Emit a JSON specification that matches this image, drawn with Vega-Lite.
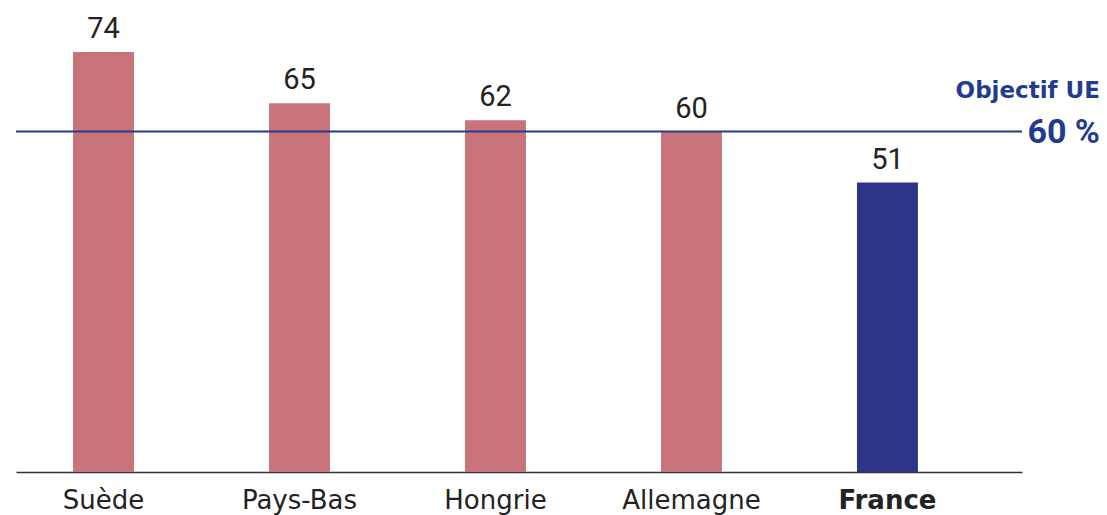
{
  "$schema": "https://vega.github.io/schema/vega-lite/v6.json",
  "width": 1006,
  "height": 454,
  "autosize": "none",
  "padding": {"left": 16, "top": 18, "right": 85, "bottom": 43},
  "background": "white",
  "config": {"view": {"stroke": null}, "font": "Roboto"},
  "data": {"values": [
    {"pays": "Suède", "valeur": 74, "groupe": "autre"},
    {"pays": "Pays-Bas", "valeur": 65, "groupe": "autre"},
    {"pays": "Hongrie", "valeur": 62, "groupe": "autre"},
    {"pays": "Allemagne", "valeur": 60, "groupe": "autre"},
    {"pays": "France", "valeur": 51, "groupe": "France"}
  ]},
  "layer": [
    {
      "mark": {"type": "bar"},
      "encoding": {
        "x": {
          "field": "pays", "type": "nominal", "sort": null,
          "scale": {"paddingInner": 0.689, "paddingOuter": 0.411, "align": 0.354},
          "axis": {
            "title": null, "ticks": false, "labelAngle": 0,
            "domainColor": "#333333", "domainWidth": 1.5,
            "labelFont": "DejaVu Sans",
            "labelFontSize": 26, "labelColor": "#222222", "labelPadding": 15,
            "labelFontWeight": {"condition": {"test": "datum.value === 'France'", "value": "bold"}, "value": "normal"}
          }
        },
        "y": {
          "field": "valeur", "type": "quantitative",
          "scale": {"domain": [0, 80], "nice": false},
          "axis": null
        },
        "color": {
          "field": "groupe", "type": "nominal",
          "scale": {"domain": ["autre", "France"], "range": ["#C9737B", "#2D3589"]},
          "legend": null
        }
      }
    },
    {
      "mark": {"type": "text", "baseline": "alphabetic", "dy": -14, "fontSize": 29, "color": "#222222"},
      "encoding": {
        "x": {"field": "pays", "type": "nominal", "sort": null},
        "y": {"field": "valeur", "type": "quantitative"},
        "text": {"field": "valeur", "type": "quantitative"}
      }
    },
    {
      "data": {"values": [{"objectif": 60, "label": "Objectif UE", "pct": "60 %"}]},
      "layer": [
        {
          "mark": {"type": "rule", "color": "#233B8E", "strokeWidth": 2},
          "encoding": {"y": {"field": "objectif", "type": "quantitative"}}
        },
        {
          "mark": {"type": "text", "align": "right", "baseline": "middle", "x": {"expr": "width"}, "dx": 78, "dy": -41, "font": "DejaVu Sans", "fontSize": 23, "fontWeight": "bold", "color": "#233B8E"},
          "encoding": {
            "y": {"field": "objectif", "type": "quantitative"},
            "text": {"field": "label"}
          }
        },
        {
          "mark": {"type": "text", "align": "right", "baseline": "middle", "x": {"expr": "width"}, "dx": 78, "dy": 1, "fontSize": 34, "fontWeight": "bold", "color": "#233B8E"},
          "encoding": {
            "y": {"field": "objectif", "type": "quantitative"},
            "text": {"field": "pct"}
          }
        }
      ]
    }
  ]
}
